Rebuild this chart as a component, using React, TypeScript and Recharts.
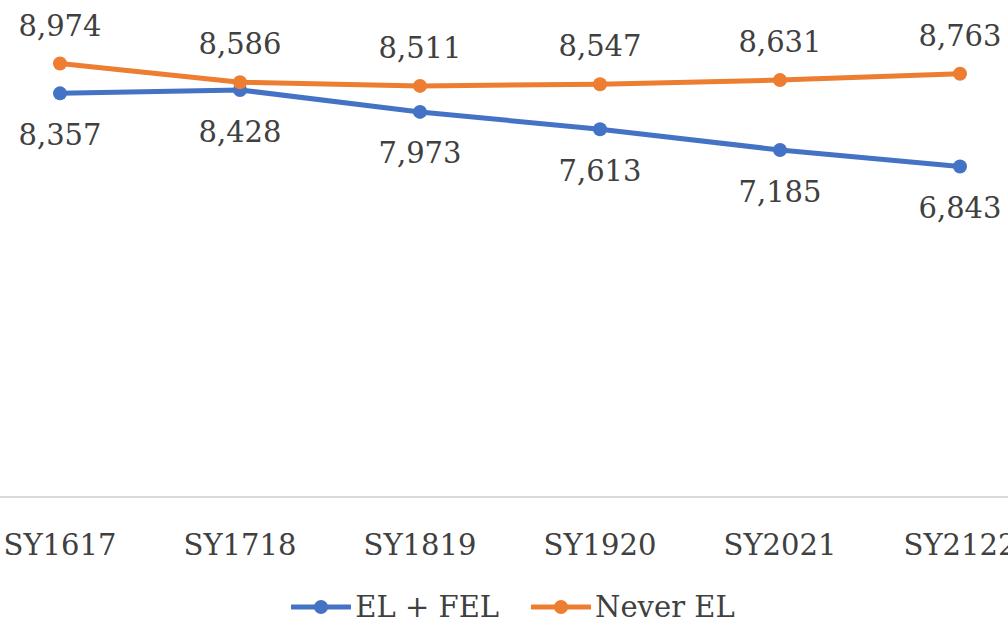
import React from "react";
import { LineChart, Line, XAxis, YAxis, Legend, LabelList } from "recharts";

const categories = ["SY1617", "SY1718", "SY1819", "SY1920", "SY2021", "SY2122"];
const elFel = [8357, 8428, 7973, 7613, 7185, 6843];
const neverEl = [8974, 8586, 8511, 8547, 8631, 8763];

const data = categories.map((c, i) => ({ name: c, elFel: elFel[i], neverEl: neverEl[i] }));

const FONT = "'DejaVu Serif', serif";
const TEXT = "#404040";
const BLUE = "#4472C4";
const ORANGE = "#ED7D31";

const fmt = (v: any) => Number(v).toLocaleString("en-US");

const LegendContent = () => (
  <div
    style={{
      display: "flex",
      justifyContent: "center",
      alignItems: "center",
      height: 48,
      paddingTop: 12,
      paddingLeft: 18,
      boxSizing: "border-box",
      fontFamily: FONT,
      fontSize: 29,
      color: TEXT,
    }}
  >
    {[
      { label: "EL + FEL", color: BLUE },
      { label: "Never EL", color: ORANGE },
    ].map((it, i) => (
      <div key={i} style={{ display: "flex", alignItems: "center", marginLeft: i ? 32 : 0 }}>
        <svg width={60} height={20} style={{ marginRight: 4 }}>
          <line x1={1} y1={10} x2={59} y2={10} stroke={it.color} strokeWidth={5} strokeLinecap="round" />
          <circle cx={30} cy={10} r={7} fill={it.color} />
        </svg>
        <span>{it.label}</span>
      </div>
    ))}
  </div>
);

export default function App() {
  return (
    <div style={{ position: "fixed", left: 0, top: 0, width: 1008, height: 625, overflow: "hidden", background: "#fff" }}>
      <LineChart width={1008} height={625} data={data} margin={{ top: 14, right: 0, left: 0, bottom: 0 }}>
        <XAxis
          dataKey="name"
          axisLine={{ stroke: "#d9d9d9", strokeWidth: 2 }}
          tickLine={false}
          tickSize={0}
          tickMargin={37}
          height={80}
          padding={{ left: 60, right: 48 }}
          tick={{ fill: TEXT, fontSize: 29, fontFamily: FONT }}
          interval={0}
        />
        <YAxis hide domain={[0, 10000]} />
        <Legend verticalAlign="bottom" height={48} content={<LegendContent />} />
        <Line
          dataKey="elFel"
          stroke={BLUE}
          strokeWidth={5}
          dot={{ r: 7, fill: BLUE, stroke: BLUE, strokeWidth: 0 }}
          isAnimationActive={false}
        >
          <LabelList
            dataKey="elFel"
            position="bottom"
            offset={31}
            formatter={fmt}
            style={{ fill: TEXT, fontSize: 29, fontFamily: FONT }}
          />
        </Line>
        <Line
          dataKey="neverEl"
          stroke={ORANGE}
          strokeWidth={5}
          dot={{ r: 7, fill: ORANGE, stroke: ORANGE, strokeWidth: 0 }}
          isAnimationActive={false}
        >
          <LabelList
            dataKey="neverEl"
            position="top"
            offset={28}
            formatter={fmt}
            style={{ fill: TEXT, fontSize: 29, fontFamily: FONT }}
          />
        </Line>
      </LineChart>
    </div>
  );
}
